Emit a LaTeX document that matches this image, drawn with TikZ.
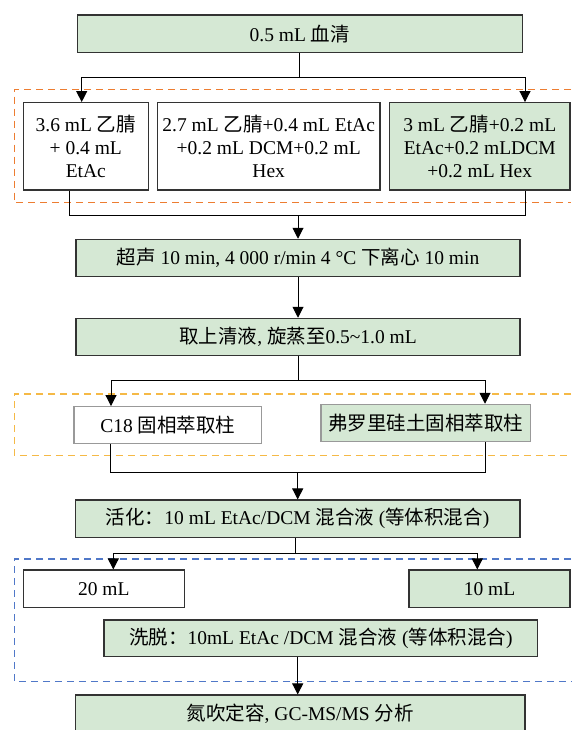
\documentclass[tikz,border=0pt]{standalone}
\usepackage{fontspec}
\setmainfont{Liberation Serif}
\newfontfamily\cjk{Noto Sans CJK SC}
\usetikzlibrary{arrows.meta}
\usetikzlibrary{calc}

\definecolor{boxgreen}{RGB}{213,232,212}
\definecolor{dashorange}{RGB}{237,125,49}
\definecolor{dashyellow}{RGB}{245,185,70}
\definecolor{dashblue}{RGB}{80,120,200}

\begin{document}
\begin{tikzpicture}[x=1pt, y=-1pt,
	font=\fontsize{19.5}{23.3}\selectfont,
	stepbox/.style={draw=black!80, line width=1.2pt, minimum height=37.3pt, inner sep=1pt, align=center},
	greenbox/.style={stepbox, fill=boxgreen},
	whitebox/.style={stepbox, fill=white},
	group/.style={line width=1.2pt, dash pattern=on 7pt off 5pt},
	arr/.style={line width=1pt, -{Triangle[width=11pt,length=11pt]}}]
	\useasboundingbox (0,0) rectangle (571,730);

	\draw[group, dashorange] (571,89.3) -| (14.3,202.7) -- (571,202.7);
	\draw[group, dashyellow] (571,394) -| (14.3,455.7) -- (571,455.7);
	\draw[group, dashblue] (571,559) -| (14.3,681.7) -- (571,681.7);

	\node[greenbox, minimum width=445pt] (serum) at (299.8,33.7) {0.5 mL {\cjk 血清}};
	\node[whitebox, minimum width=125pt, minimum height=87.3pt] (solA) at (85.8,146.3) {3.6 mL {\cjk 乙腈}\\+ 0.4 mL\\EtAc};
	\node[whitebox, minimum width=222.7pt, minimum height=87.3pt] (solB) at (268.7,146.3) {2.7 mL {\cjk 乙腈}+0.4 mL EtAc\\+0.2 mL DCM+0.2 mL\\Hex};
	\node[greenbox, minimum width=180.7pt, minimum height=87.3pt] (solC) at (479.7,146.3) {3 mL {\cjk 乙腈}+0.2 mL\\EtAc+0.2 mLDCM\\+0.2 mL Hex};
	\node[greenbox, minimum width=444pt] (sono) at (298,258) {{\cjk 超声} 10 min, 4 000 r/min 4 °C {\cjk 下离心} 10 min};
	\node[greenbox, minimum width=444pt] (super) at (298,337) {{\cjk 取上清液}, {\cjk 旋蒸至}0.5\textasciitilde1.0 mL};
	\node[whitebox, draw=black!40, minimum width=187.7pt, minimum height=36.7pt] (c18) at (167.8,425) {C18 {\cjk 固相萃取柱}};
	\node[greenbox, draw=black!40, minimum width=209.7pt] (flor) at (425.8,423) {\cjk 弗罗里硅土固相萃取柱};
	\node[greenbox, minimum width=444.7pt] (activ) at (297.7,518.7) {{\cjk 活化：}10 mL EtAc/DCM {\cjk 混合液} ({\cjk 等体积混合})};
	\node[whitebox, minimum width=161pt] (v20) at (103.8,588.7) {20 mL};
	\node[greenbox, minimum width=161pt] (v10) at (489.5,588.7) {10 mL};
	\node[greenbox, minimum width=433.7pt, minimum height=36.7pt] (elute) at (320.8,638.3) {{\cjk 洗脱：}10mL EtAc /DCM {\cjk 混合液} ({\cjk 等体积混合})};
	\node[greenbox, minimum width=449.7pt] (final) at (300.2,713.7) {{\cjk 氮吹定容}, GC-MS/MS {\cjk 分析}};

	\coordinate (split1) at ($(serum.south)+(0,25)$);
	\draw[line width=1pt] (serum.south) -- (split1);
	\draw[arr] (split1) -| ([xshift=-4.1pt]solA.north);
	\draw[arr] (split1) -| ([xshift=45.3pt]solC.north);
	\coordinate (join1) at ($(sono.north)+(0,-23.3)$);
	\draw[line width=1pt] ([xshift=-16.8pt]solA.south) |- (join1) -| ([xshift=45.3pt]solC.south);
	\draw[arr] (join1) -- (sono.north);

	\draw[arr] (sono) -- (super);

	\coordinate (split2) at ($(super.south)+(0,24.3)$);
	\draw[line width=1pt] (super.south) -- (split2);
	\draw[arr] (split2) -| ([xshift=-56.8pt]c18.north);
	\draw[arr] (split2) -| ([xshift=59.2pt]flor.north);
	\coordinate (join2) at ($(activ.north)+(0,-26.7)$);
	\draw[line width=1pt] ([xshift=-57.8pt]c18.south) |- (join2) -| ([xshift=59.2pt]flor.south);
	\draw[arr] (join2) -- (activ.north);

	\coordinate (split3) at ($(activ.south)+(-2.7,16)$);
	\draw[line width=1pt] (split3 |- activ.south) -- (split3);
	\draw[arr] (split3) -| ([xshift=9.5pt]v20.north);
	\draw[arr] (split3) -| ([xshift=-12.2pt]v10.north);

	\draw[arr] ([xshift=-2.5pt]final.north |- elute.south) -- ([xshift=-2.5pt]final.north);
\end{tikzpicture}
\end{document}
